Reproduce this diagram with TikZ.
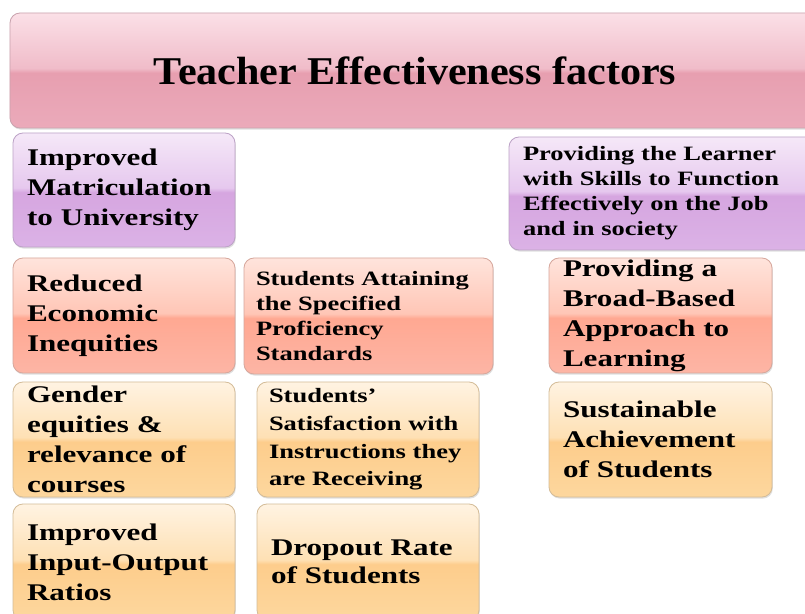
\documentclass[tikz,border=0pt]{standalone}
\usepackage{fontspec}
\setmainfont{Liberation Serif}
\newfontfamily\headfont{Liberation Serif}[FakeStretch=1.07]
\newfontfamily\factfont{Liberation Serif}[FakeStretch=1.3]
\usetikzlibrary{shadows}

% glossy fills: light top half, sharp step in the middle, darker bottom half
\definecolor{pinkA}{HTML}{FBE0E7}
\definecolor{pinkB}{HTML}{F0BCC9}
\definecolor{pinkC}{HTML}{E79FB0}
\definecolor{pinkD}{HTML}{EBAABA}
\definecolor{pinkEdge}{HTML}{C9A3AE}
\definecolor{violetA}{HTML}{F5E8F8}
\definecolor{violetB}{HTML}{E6C8EE}
\definecolor{violetC}{HTML}{D6A6E0}
\definecolor{violetD}{HTML}{DBB2E6}
\definecolor{violetEdge}{HTML}{BCA2C6}
\definecolor{salmonA}{HTML}{FFE4DC}
\definecolor{salmonB}{HTML}{FFC6B6}
\definecolor{salmonC}{HTML}{FFA892}
\definecolor{salmonD}{HTML}{FDB5A5}
\definecolor{salmonEdge}{HTML}{D6A79C}
\definecolor{amberA}{HTML}{FFF3E2}
\definecolor{amberB}{HTML}{FEE0B4}
\definecolor{amberC}{HTML}{FDCD8C}
\definecolor{amberD}{HTML}{FDD79E}
\definecolor{amberEdge}{HTML}{D4BC98}

\pgfdeclareverticalshading{pinkGloss}{100bp}{color(0bp)=(pinkD); color(25bp)=(pinkD); color(49bp)=(pinkC); color(51bp)=(pinkB); color(75bp)=(pinkA); color(100bp)=(pinkA)}
\pgfdeclareverticalshading{violetGloss}{100bp}{color(0bp)=(violetD); color(25bp)=(violetD); color(49bp)=(violetC); color(51bp)=(violetB); color(75bp)=(violetA); color(100bp)=(violetA)}
\pgfdeclareverticalshading{salmonGloss}{100bp}{color(0bp)=(salmonD); color(25bp)=(salmonD); color(49bp)=(salmonC); color(51bp)=(salmonB); color(75bp)=(salmonA); color(100bp)=(salmonA)}
\pgfdeclareverticalshading{amberGloss}{100bp}{color(0bp)=(amberD); color(25bp)=(amberD); color(49bp)=(amberC); color(51bp)=(amberB); color(75bp)=(amberA); color(100bp)=(amberA)}

\begin{document}
\begin{tikzpicture}
    [%%%%%%%%%%%%%%%%%%%%%%%%%%%%%%
        box/.style={rectangle, rounded corners=0.25cm, line width=0.6pt,
            draw=#1Edge, shade, shading=#1Gloss,
            drop shadow={shadow xshift=0.02cm, shadow yshift=-0.04cm, opacity=0.25},
            inner xsep=0.35cm, inner ysep=0pt, align=left},
        big/.style={font=\factfont\bfseries\fontsize{17}{21.3}\selectfont},
        small/.style={font=\factfont\bfseries\fontsize{14.5}{17.8}\selectfont},
    ]%%%%%%%%%%%%%%%%%%%%%%%%%%%%%%
\path[use as bounding box, fill=white] (0,0) rectangle (20.125,15.325);

\node[box=pink, align=center, minimum width=20.25cm, minimum height=2.875cm,
    font=\headfont\bfseries\fontsize{28}{34}\selectfont]
    (title) at (10.375,13.5625) {Teacher Effectiveness factors};

\node[box=violet, big, text width=4.85cm, minimum height=2.85cm]
    (matric) at (3.1,10.575) {Improved\\Matriculation\\to University};
\node[box=violet, small, text width=7.075cm, minimum height=2.825cm]
    (learner) at (16.6125,10.4875) {Providing the Learner\\with Skills to Function\\Effectively on the Job\\and in society};

\node[box=salmon, big, text width=4.85cm, minimum height=2.875cm]
    (equity) at (3.1,7.4375) {Reduced\\Economic\\Inequities};
\node[box=salmon, small, inner xsep=0.3cm, text width=5.625cm, minimum height=2.9cm]
    (attain) at (9.2125,7.425) {Students Attaining\\the Specified\\Proficiency\\Standards};
\node[box=salmon, big, text width=4.875cm, minimum height=2.875cm]
    (broad) at (16.5125,7.4375) {Providing a\\Broad-Based\\Approach to\\Learning};

\node[box=amber, big, text width=4.85cm, minimum height=2.875cm]
    (gender) at (3.1,4.3375) {Gender\\equities \&\\relevance of\\courses};
\node[box=amber, small, font=\factfont\bfseries\fontsize{14.5}{19.6}\selectfont,
    inner xsep=0.3cm, text width=4.95cm, minimum height=2.875cm]
    (satisf) at (9.2,4.3375) {Students’\\Satisfaction with\\Instructions they\\are Receiving};
\node[box=amber, big, text width=4.875cm, minimum height=2.875cm]
    (sustain) at (16.5125,4.3375) {Sustainable\\Achievement\\of Students};

\node[box=amber, big, text width=4.85cm, minimum height=2.9cm]
    (ratio) at (3.1,1.275) {Improved\\Input-Output\\Ratios};
\node[box=amber, big, font=\factfont\bfseries\fontsize{17}{20}\selectfont,
    text width=4.85cm, minimum height=2.9cm]
    (dropout) at (9.2,1.275) {Dropout Rate\\of Students};

\end{tikzpicture}
\end{document}
